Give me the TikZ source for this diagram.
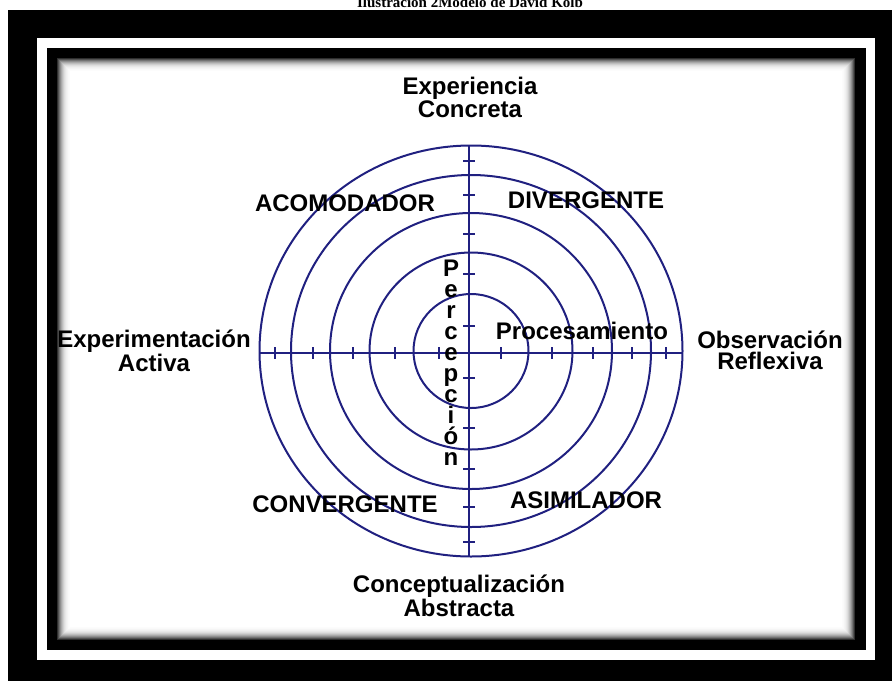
\documentclass[tikz,border=0pt]{standalone}
\usepackage{fontspec}
\setmainfont{Liberation Sans}
\newfontfamily\titlefont{Liberation Serif}
\definecolor{navy}{RGB}{32,32,128}
\begin{document}
\begin{tikzpicture}[x=1pt,y=-1pt,
  lbl/.style={font=\fontsize{24}{21}\selectfont\bfseries, anchor=base, inner sep=0pt, align=center},
  circ/.style={draw=navy, line width=2pt},
  axis/.style={draw=navy, line width=2pt},
  tick/.style={draw=navy, line width=1.6pt}]
\useasboundingbox (0,0) rectangle (892,681);
\fill[white] (0,0) rectangle (892,681);
% frame
\fill[black] (8,10) rectangle (892,681);
\fill[white] (37,38) rectangle (875,660);
\fill[black] (47,48) rectangle (866,650);
\foreach \i/\c in {0/18,1/32,2/45,3/56,4/66,5/74,6/81,7/87,8/91,9/94,10/96,11/98,12/99,13/100}
  \fill[white!\c!black] (57+\i,58+\i) rectangle (855-\i,640-\i);
% title
\node[font=\titlefont\fontsize{15}{15}\selectfont\bfseries, anchor=base, inner sep=0pt] (title) at (470,7) {Ilustración 2Modelo de David Kolb};
% circles
\foreach \rx/\ry in {57.5/57, 101.5/98.5, 141/138, 180/176, 211.5/205.5}
  \draw[circ] (471,351) ellipse [x radius=\rx pt, y radius=\ry pt];
% axes
\coordinate (hl) at (260,353);
\coordinate (hr) at (683,353);
\coordinate (vt) at (469,145);
\coordinate (vb) at (469,556);
\draw[axis] (hl) -- (hr);
\draw[axis] (vt) -- (vb);
% ticks
\foreach \x in {275,313,353,395,439,501,552,593,632,666}
  \draw[tick] (\x,347) -- (\x,359);
\foreach \y in {161,195,234,274,326,378,428,469,507,542}
  \draw[tick] (463,\y) -- (475,\y);
% labels (base anchor = baseline of last line)
\node[lbl] (ec) at (470,117) {Experiencia\\Concreta};
\node[lbl] (ea) at (154,371) {Experimentación\\Activa};
\node[lbl] (or) at (770,369) {Observación\\Reflexiva};
\node[lbl] (ca) at (459,616) {Conceptualización\\Abstracta};
\node[lbl] (acom) at (345,211) {ACOMODADOR};
\node[lbl] (div) at (586,208) {DIVERGENTE};
\node[lbl] (conv) at (345,512) {CONVERGENTE};
\node[lbl] (asim) at (586,508) {ASIMILADOR};
\node[lbl] (proc) at (582,339) {Procesamiento};
\node[lbl, font=\fontsize{24}{20.9}\selectfont\bfseries] (perc) at (451,465) {P\\e\\r\\c\\e\\p\\c\\i\\ó\\n};
\end{tikzpicture}
\end{document}
